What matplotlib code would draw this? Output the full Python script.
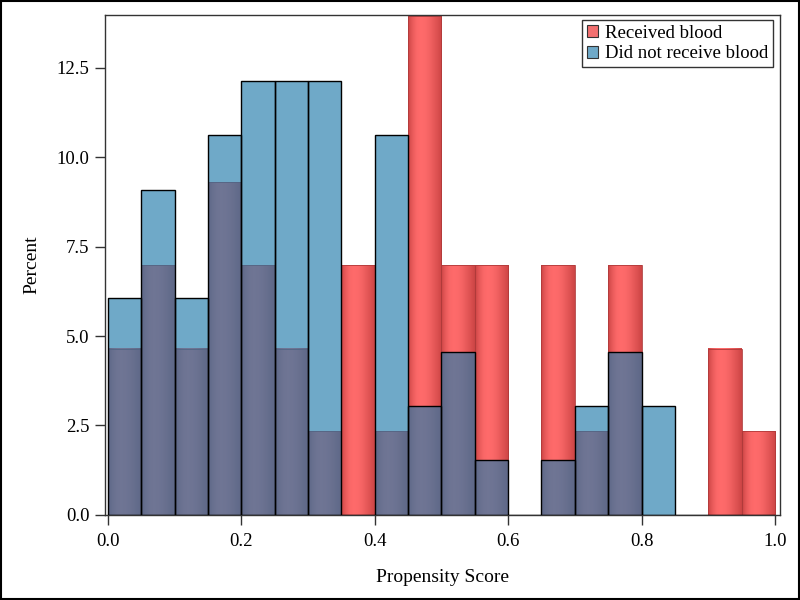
import matplotlib
matplotlib.use("Agg")
import matplotlib.pyplot as plt
import numpy as np
from matplotlib.patches import Patch, Rectangle

plt.rcParams['font.family'] = ['Liberation Serif', 'DejaVu Serif']

# bins of width 0.05 from 0 to 1
bin_left = [0.00, 0.05, 0.10, 0.15, 0.20, 0.25, 0.30, 0.35, 0.40, 0.45,
            0.50, 0.55, 0.60, 0.65, 0.70, 0.75, 0.80, 0.85, 0.90, 0.95]
bin_width = 0.05
received = [4.65, 6.98, 4.65, 9.30, 6.98, 4.65, 2.33, 6.98, 2.33, 13.95,
            6.98, 6.98, 0.0, 6.98, 2.33, 6.98, 0.0, 0.0, 4.65, 2.33]
not_received = [6.06, 9.09, 6.06, 10.61, 12.12, 12.12, 12.12, 0.0, 10.61, 3.03,
                4.55, 1.52, 0.0, 1.52, 3.03, 4.55, 3.03, 0.0, 0.0, 0.0]

fig = plt.figure(figsize=(8, 6), dpi=100)
ax = fig.add_axes([0.131, 0.142, 0.844, 0.833])

# red bars with a soft horizontal gradient
prof = np.array([0.0, 0.55, 0.9, 1.0, 0.95, 0.8, 0.55, 0.3, 0.0])
dark = np.array([0.80, 0.27, 0.27])
light = np.array([1.0, 0.42, 0.42])
grad = dark + (light - dark) * np.interp(np.linspace(0, 8, 60), np.arange(9), prof)[:, None]
grad = grad[None, :, :]
for x, h in zip(bin_left, received):
    if h > 0:
        ax.imshow(grad, extent=[x, x + bin_width, 0, h], aspect='auto',
                  interpolation='bilinear', zorder=1)
        ax.add_patch(Rectangle((x, 0), bin_width, h, fill=False,
                               edgecolor='#b03a3a', lw=0.6, zorder=1.5))

# blue bars, transparent on top
ax.bar(bin_left, not_received, width=bin_width, align='edge',
       color='#227bab', alpha=0.65, edgecolor='none', zorder=2)
ax.bar(bin_left, not_received, width=bin_width, align='edge',
       fill=False, edgecolor='black', lw=1.0, zorder=3)

ax.set_xlim(-0.0045, 1.0075)
ax.set_ylim(0, 13.98)
ax.set_xticks([0.0, 0.2, 0.4, 0.6, 0.8, 1.0])
ax.set_yticks([0.0, 2.5, 5.0, 7.5, 10.0, 12.5])
ax.set_xticklabels(['0.0', '0.2', '0.4', '0.6', '0.8', '1.0'])
ax.set_yticklabels(['0.0', '2.5', '5.0', '7.5', '10.0', '12.5'])
ax.tick_params(labelsize=13.5, length=7, width=1, colors='#333333', labelcolor='black')
ax.tick_params(axis='x', pad=6)
ax.tick_params(axis='y', pad=4)
for s in ax.spines.values():
    s.set_color('#333333')
    s.set_linewidth(1)
ax.set_xlabel('Propensity Score', fontsize=14, labelpad=14)
ax.set_ylabel('Percent', fontsize=14, labelpad=12)

handles = [Patch(facecolor='#f27070', edgecolor='#333333', lw=0.8, label='Received blood'),
           Patch(facecolor='#6fa9c8', edgecolor='#333333', lw=0.8, label='Did not receive blood')]
leg = ax.legend(handles=handles, loc='upper right', fontsize=13.5, fancybox=False,
                framealpha=1, edgecolor='#333333', handlelength=0.6, handleheight=0.6,
                handletextpad=0.4, borderpad=0.25, labelspacing=0.2,
                borderaxespad=0, bbox_to_anchor=(0.99, 0.99))
leg.get_frame().set_linewidth(1)

fig.patches.append(Rectangle((0.001, 0.001), 0.998, 0.997, transform=fig.transFigure,
                             fill=False, edgecolor='black', lw=1.5))

fig.savefig('out.png', dpi=100)
